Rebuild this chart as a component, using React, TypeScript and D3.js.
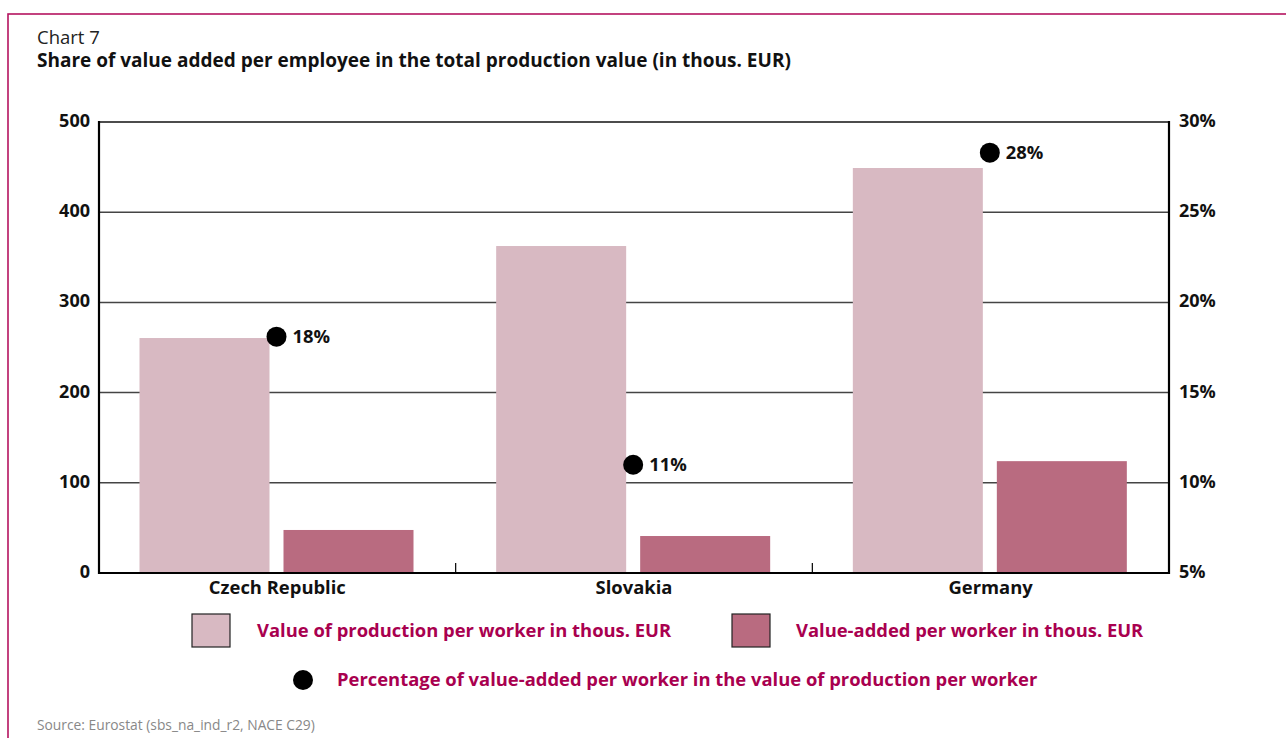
import React from "react";
import * as d3 from "d3";

const categories = ["Czech Republic", "Slovakia", "Germany"];
const productionValues = [260.5, 362.5, 449];
const valueAddedValues = [47.7, 41, 124];
const sharePercent = [18.1, 11.0, 28.3];
const shareLabels = ["18%", "11%", "28%"];
const leftTicks = [0, 100, 200, 300, 400, 500];
const rightTicks = [5, 10, 15, 20, 25, 30];
const seriesNames = [
  "Value of production per worker in thous. EUR",
  "Value-added per worker in thous. EUR",
  "Percentage of value-added per worker in the value of production per worker",
];

const W = 1286;
const H = 738;
const M = { left: 99, right: 1169, top: 122, bottom: 573 };
const LIGHT = "#d8b9c2";
const DARK = "#b96b80";
const MAGENTA = "#a9004f";
const FONT = "'Open Sans', 'Noto Sans', sans-serif";

export default function App() {
  const x = d3.scaleBand<string>().domain(categories).range([M.left, M.right]).paddingInner(0).paddingOuter(0);
  const inner = d3
    .scaleBand<string>()
    .domain(["prod", "va"])
    .range([40.5, 40.5 + 274])
    .paddingInner(14 / 144)
    .paddingOuter(0);
  const yL = d3.scaleLinear().domain([0, 500]).range([M.bottom, M.top]);
  const yR = d3.scaleLinear().domain([5, 30]).range([M.bottom, M.top]);

  return (
    <svg
      width={W}
      height={H}
      style={{ position: "absolute", left: 0, top: 0, fontFamily: FONT, background: "#fff" }}
    >
      <rect x={8} y={14} width={W + 20} height={H + 20} fill="#fff" stroke="#b5135f" strokeWidth={1.6} />
      <text x={37} y={44} fontSize={18.5} fill="#222" fontWeight={400}>Chart 7</text>
      <text x={37} y={67} fontSize={19} fill="#111" fontWeight={700}>
        Share of value added per employee in the total production value (in thous. EUR)
      </text>

      {/* gridlines */}
      {leftTicks.map((t) => (
        <line
          key={"g" + t}
          x1={M.left}
          x2={M.right}
          y1={yL(t)}
          y2={yL(t)}
          stroke={t === 500 ? "#111" : "#444"}
          strokeWidth={1.5}
        />
      ))}

      {/* bars */}
      {categories.map((c, i) => (
        <g key={c}>
          <rect
            x={(x(c) as number) + (inner("prod") as number)}
            y={yL(productionValues[i])}
            width={inner.bandwidth()}
            height={yL(0) - yL(productionValues[i])}
            fill={LIGHT}
          />
          <rect
            x={(x(c) as number) + (inner("va") as number)}
            y={yL(valueAddedValues[i])}
            width={inner.bandwidth()}
            height={yL(0) - yL(valueAddedValues[i])}
            fill={DARK}
          />
        </g>
      ))}

      {/* axes */}
      <line x1={M.left} x2={M.left} y1={M.top - 1} y2={M.bottom + 1} stroke="#000" strokeWidth={2.2} />
      <line x1={M.right} x2={M.right} y1={M.top - 1} y2={M.bottom + 1} stroke="#000" strokeWidth={2.2} />
      <line x1={M.left - 1} x2={M.right + 1} y1={M.bottom} y2={M.bottom} stroke="#000" strokeWidth={2.2} />
      {categories.slice(1).map((c) => (
        <line key={"t" + c} x1={x(c)} x2={x(c)} y1={M.bottom - 10} y2={M.bottom} stroke="#000" strokeWidth={1.2} />
      ))}

      {/* tick labels */}
      {leftTicks.map((t) => (
        <text key={"l" + t} x={90} y={yL(t)} dy="0.28em" textAnchor="end" fontSize={18} fontWeight={700} fill="#111">
          {t}
        </text>
      ))}
      {rightTicks.map((t) => (
        <text key={"r" + t} x={1179} y={yR(t)} dy="0.28em" fontSize={18} fontWeight={700} fill="#111">
          {t}%
        </text>
      ))}
      {categories.map((c) => (
        <text
          key={"c" + c}
          x={(x(c) as number) + x.bandwidth() / 2}
          y={588}
          dy="0.35em"
          textAnchor="middle"
          fontSize={18.4}
          fontWeight={700}
          fill="#111"
        >
          {c}
        </text>
      ))}

      {/* dots */}
      {categories.map((c, i) => {
        const cx = (x(c) as number) + (inner("va") as number) - 7;
        const cy = yR(sharePercent[i]);
        return (
          <g key={"d" + c}>
            <circle cx={cx} cy={cy} r={10} fill="#000" />
            <text x={cx + 16} y={cy} dy="0.36em" fontSize={18.4} fontWeight={700} fill="#111">
              {shareLabels[i]}
            </text>
          </g>
        );
      })}

      {/* legend */}
      <rect x={192} y={614} width={38} height={33} fill={LIGHT} stroke="#222" strokeWidth={1.2} />
      <text x={257} y={631} dy="0.35em" fontSize={18.4} fontWeight={700} fill={MAGENTA}>
        {seriesNames[0]}
      </text>
      <rect x={732} y={614} width={38} height={33} fill={DARK} stroke="#222" strokeWidth={1.2} />
      <text x={796} y={631} dy="0.35em" fontSize={18.4} fontWeight={700} fill={MAGENTA}>
        {seriesNames[1]}
      </text>
      <circle cx={303} cy={680} r={10} fill="#000" />
      <text x={337} y={680} dy="0.35em" fontSize={18.4} fontWeight={700} fill={MAGENTA}>
        {seriesNames[2]}
      </text>

      <text x={37} y={725} dy="0.35em" fontSize={13.8} fill="#888">
        Source: Eurostat (sbs_na_ind_r2, NACE C29)
      </text>
    </svg>
  );
}
